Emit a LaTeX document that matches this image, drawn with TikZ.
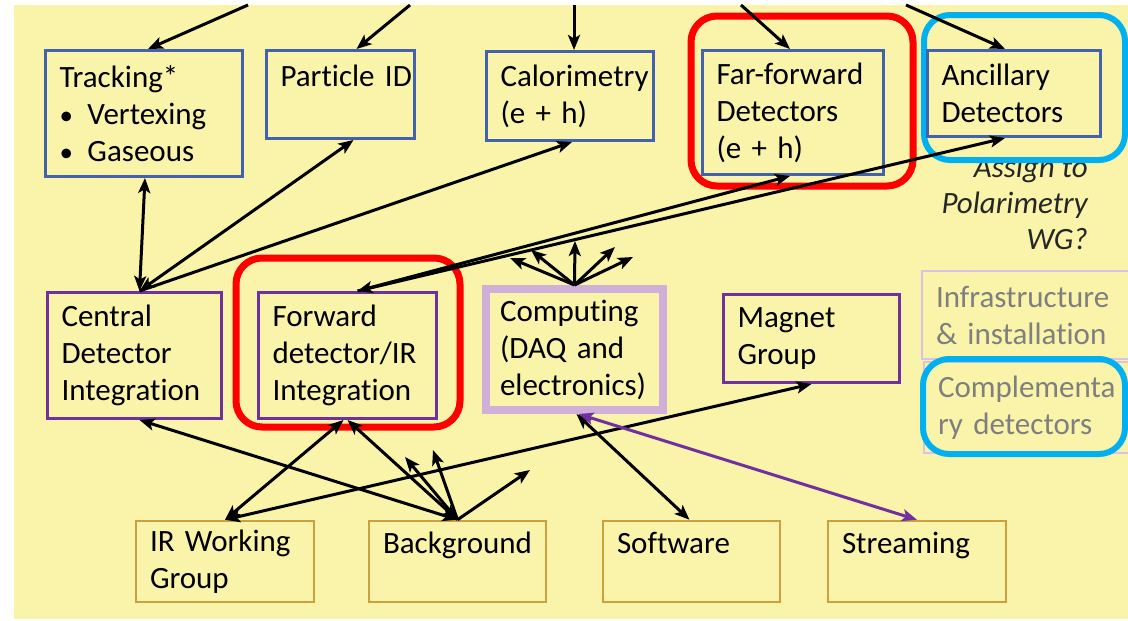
\documentclass[tikz,border=0pt]{standalone}
\usepackage{fontspec}
\setmainfont{Carlito}[Ligatures=NoCommon]
\usepackage{tikz}
\usetikzlibrary{arrows.meta,fit}
\definecolor{notepad}{HTML}{F9F4A9}
\definecolor{detblue}{HTML}{4262AE}
\definecolor{intpurple}{HTML}{7030A0}
\definecolor{lilac}{HTML}{D0B0D8}
\definecolor{palelilac}{HTML}{D9C3E3}
\definecolor{gold}{HTML}{C9A23F}
\definecolor{flagred}{HTML}{FF0000}
\definecolor{flagcyan}{HTML}{00B0F0}
\definecolor{greytext}{HTML}{7F7F7F}
\newcommand{\itembullet}{\makebox[28pt][l]{\fontsize{27}{37}\selectfont•}}
\tikzset{
    %Define standard arrow tip
    >={Stealth[length=15pt,width=12pt,inset=3.5pt]},
    %Define base style for working group boxes
    wg/.style 2 args={
           rectangle,
           minimum width=#1,
           minimum height=#2,
           text width={#1-28pt},
           inner xsep=14pt,
           inner ysep=0pt,
           align=left,
           font=\fontsize{31}{37}\selectfont},
    detector/.style 2 args={wg={#1}{#2}, draw=detblue, line width=3pt},
    integration/.style 2 args={wg={#1}{#2}, draw=intpurple, line width=3pt},
    computing/.style 2 args={wg={#1}{#2}, draw=lilac, line width=8pt},
    service/.style 2 args={wg={#1}{#2}, draw=palelilac, line width=2.5pt, text=greytext},
    support/.style 2 args={wg={#1}{#2}, draw=gold, line width=2.5pt},
    %Define style for highlighting frames
    flag/.style={
           rectangle,
           rounded corners=26pt,
           draw=#1,
           line width=7pt,
           inner sep=0pt},
    % Define arrow style
    link/.style={
           line width=3pt}
}
\begin{document}
\begin{tikzpicture}[x=1pt, y=-1pt]
\useasboundingbox (0,0) rectangle (1128,621);
\fill[notepad] (14,5) rectangle (1128,619);

% note beside the ancillary detectors
\node[font=\fontsize{31}{36}\selectfont\itshape, text=black!85, align=right,
      anchor=north east, inner sep=0pt] (assign) at (1088,156)
      {Assign to\\Polarimetry\\WG?};
\node[flag=flagcyan, line width=6pt, fill=notepad, fit={(924,15) (1125,160)}] (ancflag) {};

% detector working groups
\node[detector={197pt}{126pt}] (tracking) at (144,113.5)
      {Tracking*\\\itembullet Vertexing\\\itembullet Gaseous};
\node[detector={148pt}{88pt}] (pid) at (340.5,94.5) {Particle~ID\\\mbox{}};
\node[detector={167pt}{89pt}] (calo) at (570,96) {Calorimetry\\(e~+~h)};
\node[detector={181pt}{124pt}] (ff) at (793,112.5) {Far-forward\\Detectors\\(e~+~h)};
\node[detector={173pt}{86pt}] (ancillary) at (1014,93.5) {Ancillary\\Detectors};

% integration and project groups
\node[integration={174pt}{126pt}] (central) at (134.5,355.5) {Central\\Detector\\Integration};
\node[integration={178pt}{126pt}] (forward) at (347.5,355.5) {Forward\\detector/IR\\Integration};
\node[computing={177pt}{121pt}] (computing) at (574.5,349.5) {Computing\\(DAQ~and\\electronics)};
\node[integration={176pt}{88pt}] (magnet) at (811.5,338.5) {Magnet\\Group};
\node[service={232pt}{88pt}] (infra) at (1038,315) {Infrastructure\\\&~installation};
\node[service={232pt}{91pt}] (compl) at (1040,407.5) {Complementa\\ry~detectors};

% support groups
\node[support={178pt}{81pt}] (irwg) at (225,561.5) {IR~Working\\Group};
\node[support={177pt}{81pt}] (background) at (457.5,561.5) {Background\\\mbox{}};
\node[support={177pt}{81pt}] (software) at (691.5,561.5) {Software\\\mbox{}};
\node[support={178pt}{81pt}] (streaming) at (917,561.5) {Streaming\\\mbox{}};

% highlighting frames
\node[flag=flagred, fit={(691,16) (913,186)}] (ffflag) {};
\node[flag=flagred, fit={(236,258) (460,427)}] (fwdflag) {};
\node[flag=flagcyan, line width=6pt, fit={(923,359) (1125,454)}] (complflag) {};

% links coming in from above
\coordinate (feed1) at (248,5);
\coordinate (feed2) at (410,5);
\coordinate (feed3) at (574,5);
\coordinate (feed4) at (741,5);
\coordinate (feed5) at (906,5);
\draw[link,->] (feed1) -- ([xshift=4pt]tracking.north);
\draw[link,->] (feed2) -- ([xshift=16pt]pid.north);
\draw[link,->] (feed3) -- ([xshift=4pt]calo.north);
\draw[link,->] (feed4) -- ([xshift=-3pt]ff.north);
\draw[link,->] (feed5) -- ([xshift=-9pt]ancillary.north);

% central detector links
\draw[link,<->] ([xshift=5pt]central.north) -- ([xshift=1pt]tracking.south);
\draw[link,<->] ([xshift=5pt]central.north) -- ([xshift=13pt]pid.south);
\draw[link,->] ([xshift=5pt]central.north) -- ([xshift=2pt]calo.south);

% forward region links
\draw[link,<->] ([xshift=10pt]forward.north) -- ([xshift=-3pt]ff.south);
\draw[link,->] ([xshift=10pt]forward.north) -- ([xshift=-9pt]ancillary.south);

% computing fan
\foreach \x/\y [count=\i] in {510/258, 531/250, 575/241, 615/247, 633/257}{
  \coordinate (cfan\i) at (\x,\y);
  \draw[link,->] (computing.north) -- (cfan\i);
}

% links from the support groups
\draw[link,<->] ([xshift=5pt]central.south) -- (background.north);
\draw[link,<->] (forward.south) -- (background.north);
\draw[link,<->] ([xshift=-4pt]forward.south) -- (irwg.north);
\draw[link,<->] (irwg.north) -- (magnet.south);
\foreach \x/\y [count=\i] in {405/457, 433/450, 530/470}{
  \coordinate (bfan\i) at (\x,\y);
  \draw[link,->] (background.north) -- (bfan\i);
}
\draw[link,<->] ([xshift=2pt]computing.south) -- ([xshift=-2pt]software.north);
\draw[link,<->,draw=intpurple] ([xshift=4pt]computing.south) -- (streaming.north);
\end{tikzpicture}
\end{document}
